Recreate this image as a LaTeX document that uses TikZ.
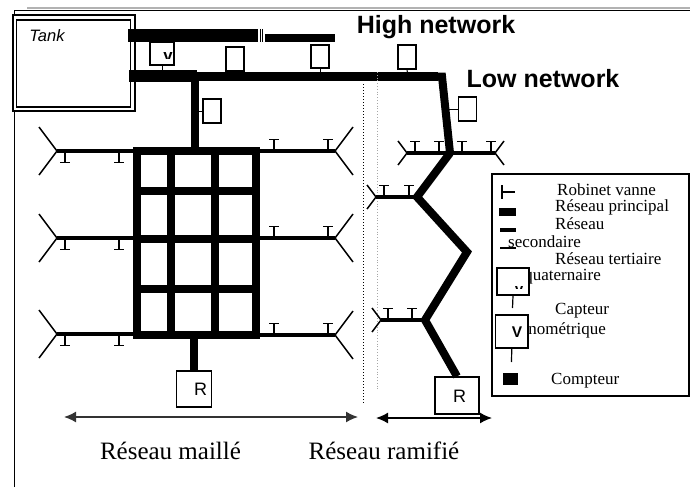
\documentclass[tikz,border=0pt]{standalone}
\usepackage{fontspec}
\setmainfont{Liberation Serif}
\setsansfont{Liberation Sans}
\usetikzlibrary{arrows.meta}
\newcommand{\valveUp}[2]{\draw[pipeC] (#1,#2) -- ++(0,-11.5) ++(-5,0) -- ++(10,0);}
\newcommand{\valveDown}[2]{\draw[pipeC] (#1,#2) -- ++(0,11.5) ++(-5,0) -- ++(10,0);}
\newcommand{\fork}[4]{\draw[pipeC] (#1,#2) -- ++(#3,-#4) (#1,#2) -- ++(#3,#4);}
\tikzset{
  x=1pt,y=-1pt,
  pipeA/.style={line width=8pt,black},
  pipeB/.style={line width=3.5pt,black},
  pipeC/.style={line width=1.5pt,black},
  sensor/.style={draw=black,line width=1.5pt,fill=white,inner sep=0pt,minimum width=#1},
  sensor/.default=18pt,
  rbox/.style={draw=black,line width=1.2pt,fill=white,inner sep=0pt},
  rlabel/.style={inner sep=0pt,font=\sffamily\fontsize{18}{18}\selectfont},
  legtext/.style={anchor=west,inner sep=0pt,font=\fontsize{17}{17}\selectfont},
  bigtext/.style={inner sep=0pt,font=\fontsize{25}{25}\selectfont},
  nettext/.style={inner sep=0pt,font=\sffamily\bfseries\fontsize{25}{25}\selectfont},
  span/.style={{Latex[length=12pt,width=11pt]}-{Latex[length=12pt,width=11pt]},line width=1.5pt},
}
\begin{document}
\begin{tikzpicture}
\useasboundingbox (0,0) rectangle (690,487);
% page frame
\draw[line width=2.5pt,gray!60] (27,8) -- (690,8);
\draw[line width=1pt] (14,487) -- (14,10.5) -- (690,10.5);
% tank
\node[draw=black,line width=2pt,fill=white,minimum width=122pt,minimum height=95.5pt,inner sep=0pt] (tankout) at (73.5,63.25) {};
\node[draw=black,line width=1.5pt,fill=white,minimum width=114pt,minimum height=87pt,inner sep=0pt] (tank) at (73.5,63.5) {};
\node[inner sep=0pt,font=\sffamily\itshape\fontsize{16.5}{16.5}\selectfont] (tanklabel) at (47,36) {Tank};
% junction coordinates
\coordinate (h1) at (128,35.5); \coordinate (h2) at (258,35.5);
\coordinate (h3) at (265,38); \coordinate (h4) at (335,38);
\coordinate (l1) at (129,75.5); \coordinate (l2) at (197,75.5);
\coordinate (l3) at (197,76.5); \coordinate (l4) at (442,76.5);
\coordinate (g) at (450,153); \coordinate (b1) at (417,197);
\coordinate (b2) at (467,252); \coordinate (b3) at (425,320);
% sensors on the networks
\node[sensor=24pt,minimum height=23pt] (s1) at (162,53.5) {};
\begin{scope}
\clip (155,53) rectangle (173,58.5);
\node[inner sep=0pt,font=\sffamily\bfseries\fontsize{17}{17}\selectfont,anchor=north] (s1v) at (168,50) {V};
\end{scope}
\node[sensor,minimum height=24pt] (s2) at (235,59) {};
\node[sensor,minimum height=23pt] (s3) at (320,56.5) {};
\node[sensor,minimum height=24pt] (s4) at (407,57) {};
\node[sensor,minimum height=24pt] (s5) at (467.5,109) {};
\node[sensor,minimum height=24pt] (s6) at (212,111) {};
% high network
\draw[line width=13pt] (h1) -- (h2);
\draw[line width=1pt] (260,29) -- (260,42) (262.5,29) -- (262.5,42);
\draw[line width=8pt] (h3) -- (h4);
% low network
\draw[line width=1pt] (s1.south) -- (162,71);
\draw[line width=1pt] (s2.south) -- (235,81);
\draw[line width=1pt] (s3.south) -- (320,73);
\draw[line width=1pt] (s4.south) -- (407.5,73);
\draw[line width=1pt] (s5.west) -- (449,109);
\draw[line width=1pt] (s6.west) -- (199,111);
\draw[line width=12pt] (l1) -- (l2);
\draw[line width=9pt] (l3) -- (438,76.5);
\draw[line width=8pt,line join=miter] (436,76.5) -- (l4) -- (g);
\draw[line width=8pt] (195,75) -- (195,148);
% dotted separators
\draw[line width=1pt,dotted] (363,84) -- (363,403);
\draw[line width=0.8pt,dotted,gray!70] (377,72) -- (377,391);
% secondary lines, mesh
\foreach \yl/\yr in {151/151,238/238,334/335}{
  \draw[pipeB] (57,\yl) -- (136,\yl);
  \draw[pipeB] (256,\yr) -- (335,\yr);
  \fork{57}{\yl}{-18}{24}
  \fork{335}{\yr}{18}{24}
  \valveDown{65}{\yl}
  \valveDown{119}{\yl}
  \valveUp{274}{\yr}
  \valveUp{328}{\yr}
}
% mesh
\draw[pipeA,line cap=rect] (136.5,151) rectangle (256,334.5);
\draw[pipeA] (171,151) -- (171,334.5) (215,151) -- (215,334.5)
  (136.5,191) -- (256,191) (136.5,239) -- (256,239) (136.5,289) -- (256,289);
% branch secondary
\draw[pipeB] (407,153) -- (495,153);
\fork{407}{153}{-9}{12}
\fork{495}{153}{9}{12}
\foreach \x in {415,439,462,491}{\valveUp{\x}{153}}
\draw[pipeB] (376,197) -- (b1);
\fork{376}{197}{-9}{12}
\foreach \x in {384,409}{\valveUp{\x}{197}}
\draw[pipeB] (381,320) -- (b3);
\fork{381}{320}{-9}{12}
\foreach \x in {388,412}{\valveUp{\x}{320}}
% reservoirs
\node[rbox,minimum width=35pt,minimum height=36pt] (r1) at (194,389) {};
\node[rlabel] (r1t) at (200.5,389) {R};
\node[rbox,minimum width=44pt,minimum height=37pt] (r2) at (457,395.5) {};
\node[rlabel] (r2t) at (459.5,396) {R};
% main branch
\draw[line width=8pt,line join=miter] (g) -- (b1) -- (b2) -- (b3) -- (r2.north);
\draw[line width=8pt] (r1.north) -- (194,338);
% spans
\coordinate (m1) at (64,417); \coordinate (m2) at (358,417);
\coordinate (q1) at (376,418); \coordinate (q2) at (492,418);
\draw[span,black!80] (m1) -- (m2);
\draw[span] (q1) -- (q2);
\node[bigtext] (maille) at (170.5,451) {Réseau maillé};
\node[bigtext] (ramifie) at (384,451) {Réseau ramifié};
\node[nettext] (high) at (436,27) {High network};
\node[nettext] (low) at (543,79) {Low network};
% legend
\node[draw=black,line width=1.2pt,fill=white,minimum width=197pt,minimum height=222pt,inner sep=0pt] (legend) at (590.5,285) {};
\draw[line width=1.2pt] (502,185) -- (502,199) (502,192) -- (515,192);
\fill (499,208) rectangle (515.5,216);
\fill (500,228) rectangle (516,232);
\draw[line width=1.2pt] (500,248) -- (516,248);
\node[legtext] (t1) at (557,190) {Robinet vanne};
\node[legtext] (t2) at (555,207) {Réseau principal};
\node[legtext] (t3) at (555,224) {Réseau};
\node[legtext] (t4) at (508,242) {secondaire};
\node[legtext] (t5) at (555,259) {Réseau tertiaire};
\node[legtext,anchor=east] (t6) at (601,277) {quaternaire};
\node[legtext] (t7) at (555,311) {Capteur};
\node[legtext,anchor=east] (t8) at (606,330) {manométrique};
\node[legtext] (t9) at (551,381) {Compteur};
\node[draw=black,line width=1.2pt,fill=white,minimum width=32pt,minimum height=27pt,inner sep=0pt] (lb1) at (513,281.5) {};
\begin{scope}
\clip (512,286) rectangle (526,288.5);
\node[inner sep=0pt,font=\sffamily\bfseries\fontsize{15}{15}\selectfont,anchor=north] (lb1v) at (519,283.5) {V};
\end{scope}
\draw[line width=1.2pt] (lb1.south) -- (512.5,308);
\node[draw=black,line width=1.2pt,fill=white,minimum width=32.5pt,minimum height=33pt,inner sep=0pt] (lb2) at (511.75,331.5) {};
\node[inner sep=0pt,font=\sffamily\bfseries\fontsize{15.5}{15.5}\selectfont] (lb2v) at (517,332) {V};
\draw[line width=1.2pt] (lb2.south) -- (511.5,362);
\fill (503,373) rectangle (518,385);
\end{tikzpicture}
\end{document}
